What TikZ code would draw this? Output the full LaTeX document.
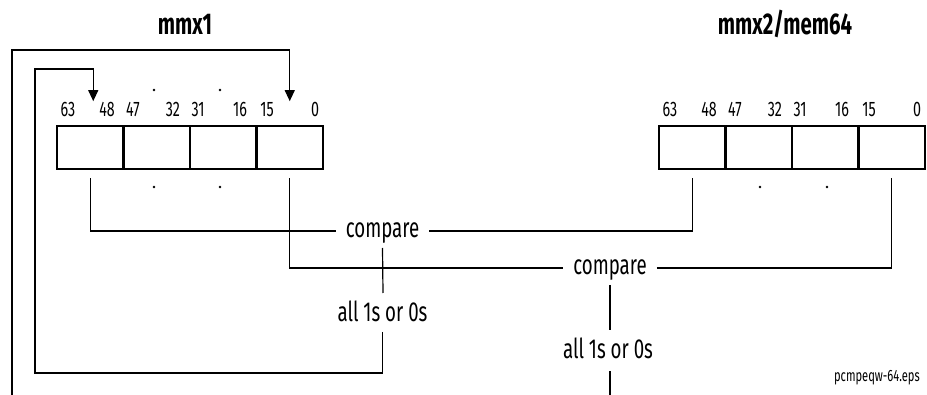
\documentclass[tikz,border=0pt]{standalone}
\usepackage{fontspec}
\setmainfont{Fira Sans}[FakeStretch=0.68]
\usetikzlibrary{arrows.meta}
\begin{document}
\begin{tikzpicture}[x=1pt,y=-1pt,
  cell/.style={draw,line width=2.2pt,minimum width=66.5pt,minimum height=43.5pt,inner sep=0pt},
  conn/.style={line width=1.2pt},
  arr/.style={conn,-{Triangle[width=10pt,length=11pt]}},
  bit/.style={font=\fontsize{21}{22}\selectfont,anchor=base,inner sep=0pt},
  cmp/.style={font=\fontsize{27.5}{30}\selectfont,inner xsep=10pt,inner ysep=0pt,text height=13pt,text depth=0pt},
  res/.style={font=\fontsize{27.5}{30}\selectfont,inner sep=0pt,anchor=base},
  ttl/.style={font=\fontseries{sb}\selectfont\fontsize{30}{32}\selectfont,anchor=base,inner sep=0pt},
  dot/.style={fill=black},
  ]
\useasboundingbox (0,0) rectangle (927,395);
% titles
\node[ttl] (t1) at (185,35) {mmx1};
\node[ttl] (t2) at (785,35) {mmx2/mem64};
% registers
\node[cell] (L1) at (90.25,147.5) {};
\node[cell] (L2) at (156.75,147.5) {};
\node[cell] (L3) at (223.25,147.5) {};
\node[cell] (L4) at (289.75,147.5) {};
\node[cell] (R1) at (692.25,147.5) {};
\node[cell] (R2) at (758.75,147.5) {};
\node[cell] (R3) at (825.25,147.5) {};
\node[cell] (R4) at (891.75,147.5) {};
% bit labels
\foreach \s/\n in {0/l,602/r}{
  \node[bit] (\n63) at (68+\s,117) {63};
  \node[bit] (\n48) at (107+\s,117) {48};
  \node[bit] (\n47) at (133+\s,117) {47};
  \node[bit] (\n32) at (173+\s,117) {32};
  \node[bit] (\n31) at (198+\s,117) {31};
  \node[bit] (\n16) at (240+\s,117) {16};
  \node[bit] (\n15) at (267+\s,117) {15};
  \node[bit] (\n0) at (315+\s,117) {0};
}
% dots
\fill[dot] (154,90) circle (1.4pt);
\fill[dot] (220,90) circle (1.4pt);
\fill[dot] (154,187) circle (1.4pt);
\fill[dot] (220,187) circle (1.4pt);
\fill[dot] (760,187) circle (1.4pt);
\fill[dot] (827,187) circle (1.4pt);
% compare nodes
\node[cmp] (c1) at (382.5,231) {compare};
\node[cmp] (c2) at (610,268) {compare};
\node[res] (a1) at (382.5,321.5) {all 1s or 0s};
\node[res] (a2) at (608,358.5) {all 1s or 0s};
\node[font=\fontsize{16.4}{18}\selectfont,inner sep=0pt,anchor=base east] (eps) at (920,382) {pcmpeqw-64.eps};
% coordinates
\coordinate (k1) at (35,373);
\coordinate (k2) at (35,69);
\coordinate (b1) at (12,396);
\coordinate (b2) at (12,50);
\coordinate (b3) at (610,396);
% connectors
\draw[conn] ([yshift=-8pt]L1.south) |- (c1.west);
\draw[conn] (c1.east) -| ([yshift=-8pt]R1.south);
\draw[conn] ([yshift=-8pt]L4.south) |- (c2.west);
\draw[conn] (c2.east) -| ([yshift=-8pt]R4.south);
\draw[conn] ([yshift=-17pt]c1.center) -- ([xshift=0.5pt,yshift=28.5pt]a1.base);
\draw[conn] ([yshift=-17pt]c2.center) -- ([xshift=2pt,yshift=28.5pt]a2.base);
\draw[arr] ([yshift=-10.5pt]a1.base) |- (k1) -- (k2) -| ([xshift=3pt,yshift=23.5pt]L1.north);
\draw[conn] ([xshift=2pt,yshift=-13pt]a2.base) -- (b3);
\draw[arr] (b1) -- (b2) -| ([yshift=23.5pt]L4.north);
\end{tikzpicture}
\end{document}
